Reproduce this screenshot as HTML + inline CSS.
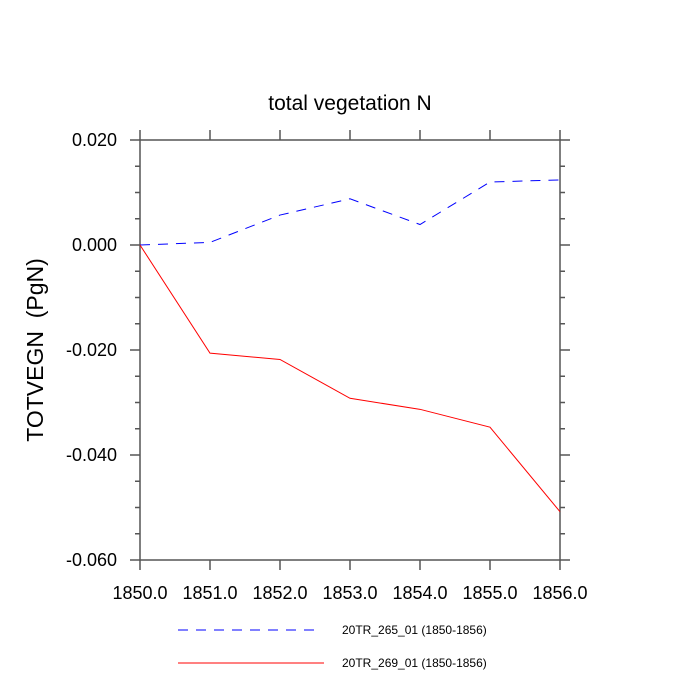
<!DOCTYPE html>
<html><head><meta charset="utf-8"><style>body{margin:0;background:#fff}svg{display:block}text{font-family:"Liberation Sans",sans-serif}</style></head>
<body>
<svg id="c" width="700" height="700">
<text x="350" y="110" font-size="21" text-anchor="middle">total vegetation N</text>
<text transform="translate(43,350) rotate(-90)" font-size="23" text-anchor="middle">TOTVEGN&#160;&#160;(PgN)</text>
<g id="axes"></g><g id="marks"></g>
<line x1="178" y1="630" x2="318" y2="630" stroke="#00f" stroke-dasharray="10,8"/>
<text x="342" y="634" font-size="12">20TR_265_01 (1850-1856)</text>
<line x1="178" y1="663" x2="324" y2="663" stroke="#f00"/>
<text x="342" y="667" font-size="12">20TR_269_01 (1850-1856)</text>
</svg>
<script>
const years=[1850,1851,1852,1853,1854,1855,1856];
const s265=[0,0.0005,0.0057,0.0088,0.0039,0.0120,0.0124];
const s269=[0,-0.0206,-0.0218,-0.0292,-0.0313,-0.0347,-0.0508];
const yTicks=[0.02,0,-0.02,-0.04,-0.06];
const yLabels=["0.020","0.000","-0.020","-0.040","-0.060"];
const L=140,R=560,T=140,B=560;
const X=v=>L+(v-1850)/6*(R-L);
const Y=v=>T+(0.02-v)/0.08*(B-T);
const NS="http://www.w3.org/2000/svg";
const ax=document.getElementById('axes'),mk=document.getElementById('marks');
function el(p,t,a){const e=document.createElementNS(NS,t);for(const k in a)e.setAttribute(k,a[k]);p.appendChild(e);return e;}
const frame=el(ax,'rect',{x:L,y:T,width:R-L,height:B-T,fill:'none',stroke:'#555','stroke-width':1.5});


years.forEach(yr=>{const x=X(yr);
el(ax,'line',{x1:x,y1:B,x2:x,y2:B+10,stroke:'#555','stroke-width':1.5});
el(ax,'line',{x1:x,y1:T,x2:x,y2:T-10,stroke:'#555','stroke-width':1.5});
const t=el(ax,'text',{x:x,y:599,'font-size':18,'text-anchor':'middle'});t.textContent=yr.toFixed(1);

});
for(let v=-0.06;v<=0.0201;v+=0.005){const y=Y(v);const maj=Math.abs(Math.round(v*1000)%20)<0.5;const len=maj?10:5;
el(ax,'line',{x1:L,y1:y,x2:L-len,y2:y,stroke:'#555','stroke-width':1.5});
el(ax,'line',{x1:R,y1:y,x2:R+len,y2:y,stroke:'#555','stroke-width':1.5});}
yTicks.forEach((v,i)=>{const t=el(ax,'text',{x:117,y:Y(v)+6,'font-size':18,'text-anchor':'end'});t.textContent=yLabels[i];

});
function line(d,c,dash,name){const p=el(mk,'polyline',{points:d.map((v,i)=>X(years[i])+','+Y(v)).join(' '),fill:'none',stroke:c,'stroke-width':1,'stroke-dasharray':dash});

}
line(s265,'#00f','10,8','series-265');
line(s269,'#f00','none','series-269');
</script>
</body></html>
